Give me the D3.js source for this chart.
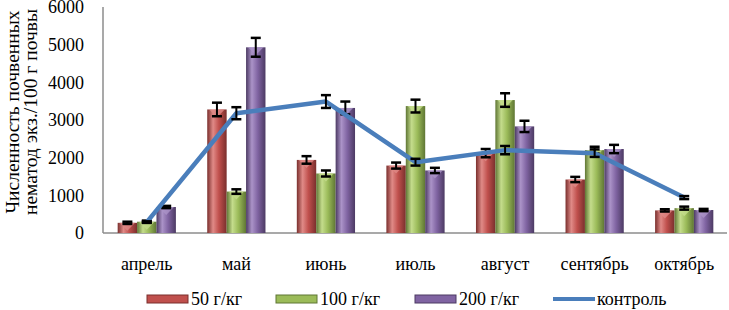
<!DOCTYPE html>
<html>
<head>
<meta charset="utf-8">
<script src="https://cdn.jsdelivr.net/npm/d3@7"></script>
<style>
  body { margin: 0; background: #fff; }
  text { font-family: "Liberation Serif", "Times New Roman", serif; fill: #000; }
</style>
</head>
<body>
<div id="chart"></div>
<script>
const months = ["апрель", "май", "июнь", "июль", "август", "сентябрь", "октябрь"];
const seriesNames = ["50 г/кг", "100 г/кг", "200 г/кг"];
const dose50 = [270, 3280, 1940, 1790, 2120, 1420, 600];
const dose100 = [300, 1100, 1580, 3370, 3530, 2200, 660];
const dose200 = [690, 4930, 3320, 1660, 2830, 2230, 610];
const err50 = [30, 180, 100, 80, 110, 70, 30];
const err100 = [30, 60, 80, 170, 180, 90, 40];
const err200 = [30, 250, 170, 70, 150, 110, 30];
const control = [290, 3180, 3490, 1880, 2200, 2120, 940];
const errControl = [20, 160, 170, 90, 110, 100, 40];
const yTicks = [0, 1000, 2000, 3000, 4000, 5000, 6000];

(function() {
  const width = 729, height = 310;
  const colors = ["#c0504d", "#9bbb59", "#8064a2"];
  const dark = ["#7a2f2d", "#5f7634", "#4c3a63"];
  const light = ["#e08a87", "#c4dc8c", "#ab93c8"];
  const values = [dose50, dose100, dose200];
  const errs = [err50, err100, err200];

  const svg = d3.select("#chart").append("svg")
    .attr("width", width)
    .attr("height", height);

  const defs = svg.append("defs");
  colors.forEach((c, i) => {
    const g = defs.append("linearGradient")
      .attr("id", "grad" + i)
      .attr("x1", "0%").attr("x2", "100%").attr("y1", "0%").attr("y2", "0%");
    g.append("stop").attr("offset", "0%").attr("stop-color", dark[i]);
    g.append("stop").attr("offset", "30%").attr("stop-color", light[i]);
    g.append("stop").attr("offset", "60%").attr("stop-color", c);
    g.append("stop").attr("offset", "100%").attr("stop-color", dark[i]);
  });

  const x = d3.scaleBand()
    .domain(months)
    .range([102, 729])
    .paddingInner(0.35)
    .paddingOuter(0.175);

  const xSub = d3.scaleBand()
    .domain(d3.range(3))
    .range([0, x.bandwidth()]);

  const y = d3.scaleLinear()
    .domain([0, 6000])
    .range([233, 7]);

  // axes lines
  svg.append("line")
    .attr("x1", 103).attr("x2", 103)
    .attr("y1", y(6000)).attr("y2", y(0))
    .attr("stroke", "#8c8c8c").attr("stroke-width", 1.5);

  svg.append("line")
    .attr("x1", 103).attr("x2", 727)
    .attr("y1", y(0)).attr("y2", y(0))
    .attr("stroke", "#8c8c8c").attr("stroke-width", 1.5);

  svg.append("g").selectAll("text")
    .data(yTicks)
    .enter()
    .append("text")
    .attr("x", 84)
    .attr("y", d => y(d))
    .attr("dy", "0.35em")
    .attr("text-anchor", "end")
    .attr("font-size", "18px")
    .text(d => d);

  svg.append("g").selectAll("text")
    .data(months)
    .enter()
    .append("text")
    .attr("x", d => x(d) + x.bandwidth() / 2)
    .attr("y", 270)
    .attr("text-anchor", "middle")
    .attr("font-size", "18px")
    .text(d => d);

  // y title
  const title = svg.append("text")
    .attr("transform", "translate(19,112) rotate(-90)")
    .attr("text-anchor", "middle")
    .attr("font-size", "19.5px");
  title.append("tspan").attr("x", 0).attr("dy", 0).text("Численность почвенных");
  title.append("tspan").attr("x", 0).attr("dy", "0.92em").text("нематод экз./100 г почвы");

  // bars
  values.forEach((vals, s) => {
    const g = svg.append("g");
    vals.forEach((v, i) => {
      const bx = x(months[i]) + xSub(s);
      const bw = xSub.bandwidth();
      g.append("rect")
        .attr("x", bx)
        .attr("y", y(v))
        .attr("width", bw)
        .attr("height", y(0) - y(v))
        .attr("fill", `url(#grad${s})`);
      g.append("path")
        .attr("d", `M${bx + 2},${y(v)} L${bx + bw - 2},${y(v)} L${bx + bw / 2},${y(v) + 8} Z`)
        .attr("fill", light[s])
        .attr("opacity", 0.8);
    });
  });

  function errorBars(vals, ers, cx) {
    const g = svg.append("g");
    vals.forEach((v, i) => {
      const xc = cx(i);
      const top = y(v + ers[i]), bot = y(v - ers[i]);
      g.append("line").attr("x1", xc).attr("x2", xc).attr("y1", top).attr("y2", bot)
        .attr("stroke", "#000").attr("stroke-width", 2);
      [top, bot].forEach(yy => {
        g.append("line").attr("x1", xc - 5).attr("x2", xc + 5).attr("y1", yy).attr("y2", yy)
          .attr("stroke", "#000").attr("stroke-width", 2.5);
      });
    });
  }

  values.forEach((vals, s) => {
    errorBars(vals, errs[s], i => x(months[i]) + xSub(s) + xSub.bandwidth() / 2);
  });

  // control line
  const line = d3.line()
    .x((d, i) => x(months[i]) + x.bandwidth() / 2)
    .y(d => y(d));

  svg.append("path")
    .datum(control)
    .attr("d", line)
    .attr("fill", "none")
    .attr("stroke", "#4a7ebb")
    .attr("stroke-width", 4.5)
    .attr("stroke-linejoin", "round");

  errorBars(control, errControl, i => x(months[i]) + x.bandwidth() / 2);

  // legend
  const legendItems = [
    { label: seriesNames[0], type: "bar", s: 0, x: 147 },
    { label: seriesNames[1], type: "bar", s: 1, x: 276 },
    { label: seriesNames[2], type: "bar", s: 2, x: 415 },
    { label: "контроль", type: "line", x: 553 }
  ];
  const legend = svg.append("g");
  legendItems.forEach(d => {
    if (d.type === "bar") {
      legend.append("rect")
        .attr("x", d.x).attr("y", 295)
        .attr("width", 41).attr("height", 8)
        .attr("fill", colors[d.s])
        .attr("stroke", dark[d.s]).attr("stroke-width", 1);
    } else {
      legend.append("line")
        .attr("x1", d.x).attr("x2", d.x + 42)
        .attr("y1", 299).attr("y2", 299)
        .attr("stroke", "#4a7ebb").attr("stroke-width", 4);
    }
    legend.append("text")
      .attr("x", d.x + 44)
      .attr("y", 305)
      .attr("font-size", "18px")
      .text(d.label);
  });
})();
</script>
</body>
</html>
